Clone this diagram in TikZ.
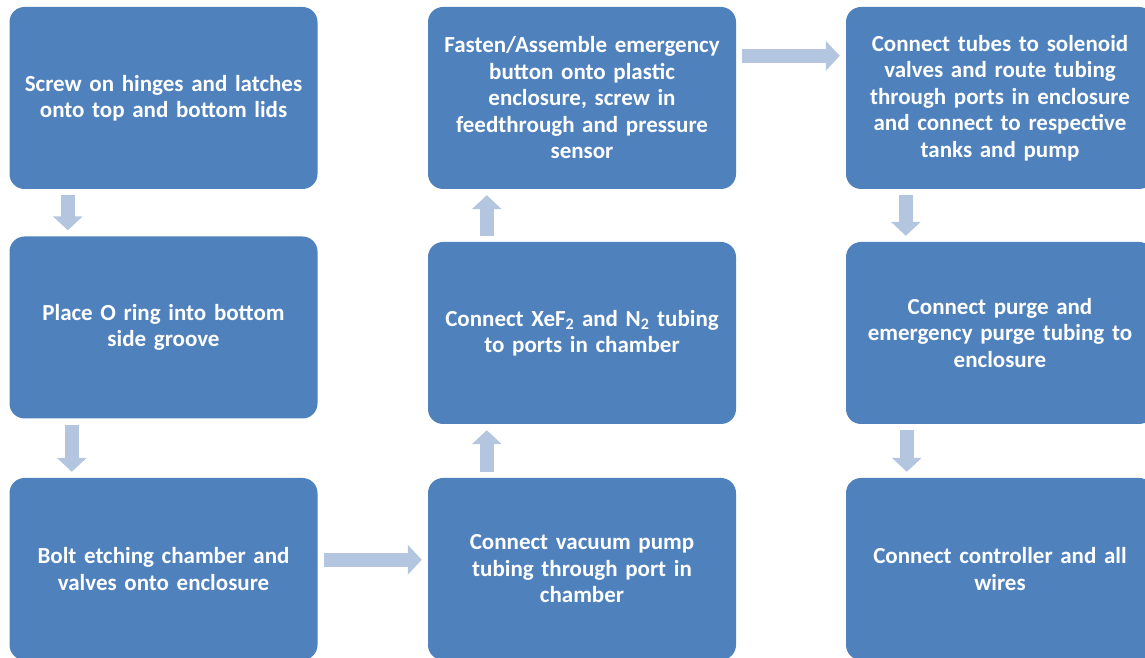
\documentclass[tikz,border=0pt]{standalone}
\usepackage{fontspec}
\setmainfont{Carlito}[BoldFont={Carlito Bold}]
\usetikzlibrary{arrows.meta}

\newlength{\du}
\setlength{\du}{1pt}

\begin{document}
\begin{tikzpicture}[x=1\du,y=1\du,
  stepbox/.style={rectangle,rounded corners=15\du,fill=boxblue,draw=none,
    minimum width=308\du,minimum height=182\du,text width=300\du,align=center,
    text=white,font=\bfseries\fontsize{23}{26.5}\selectfont},
  flowarrow/.style={draw=arrowblue,line width=14pt,
    -{Triangle[length=14pt,width=29pt]},shorten <=6pt,shorten >=6pt}]
\definecolor{boxblue}{rgb}{0.310000, 0.506000, 0.741000}
\definecolor{arrowblue}{rgb}{0.702000, 0.773000, 0.875000}
\useasboundingbox (0,0) rectangle (1145,658);
\clip (0,0) rectangle (1145,658);
% first column
\node[stepbox] (hinges) at (163.5,560) {Screw on hinges and latches\\onto top and bottom lids};
\node[stepbox] (oring) at (163.5,330.5) {Place O ring into bottom\\side groove};
\node[stepbox] (bolt) at (163.5,89) {Bolt etching chamber and\\valves onto enclosure};
% second column
\node[stepbox] (fasten) at (582,560) {Fasten/Assemble emergency\\button onto plastic\\enclosure, screw in\\feedthrough and pressure\\sensor};
\node[stepbox] (gases) at (582,325) {Connect XeF\textsubscript{2} and N\textsubscript{2} tubing\\to ports in chamber};
\node[stepbox] (vacuum) at (582,89) {Connect vacuum pump\\tubing through port in\\chamber};
% third column
\node[stepbox] (tubes) at (1000,560) {Connect tubes to solenoid\\valves and route tubing\\through ports in enclosure\\and connect to respective\\tanks and pump};
\node[stepbox] (purge) at (1000,325) {Connect purge and\\emergency purge tubing to\\enclosure};
\node[stepbox] (wires) at (1000,89) {Connect controller and all\\wires};
% arrows
\draw[flowarrow] ([xshift=58.5pt]hinges.south west) -- ([xshift=58.5pt]oring.north west);
\draw[flowarrow] ([xshift=62.5pt]oring.south west) -- ([xshift=62.5pt]bolt.north west);
\draw[flowarrow] ([yshift=-82pt]bolt.north east) -- ([yshift=-82pt]vacuum.north west);
\draw[flowarrow] ([xshift=59pt]vacuum.north west) -- ([xshift=59pt]gases.south west);
\draw[flowarrow] ([xshift=59pt]gases.north west) -- ([xshift=59pt]fasten.south west);
\draw[flowarrow] ([yshift=-49pt]fasten.north east) -- ([yshift=-49pt]tubes.north west);
\draw[flowarrow] ([xshift=60pt]tubes.south west) -- ([xshift=60pt]purge.north west);
\draw[flowarrow] ([xshift=61pt]purge.south west) -- ([xshift=61pt]wires.north west);
\end{tikzpicture}
\end{document}
